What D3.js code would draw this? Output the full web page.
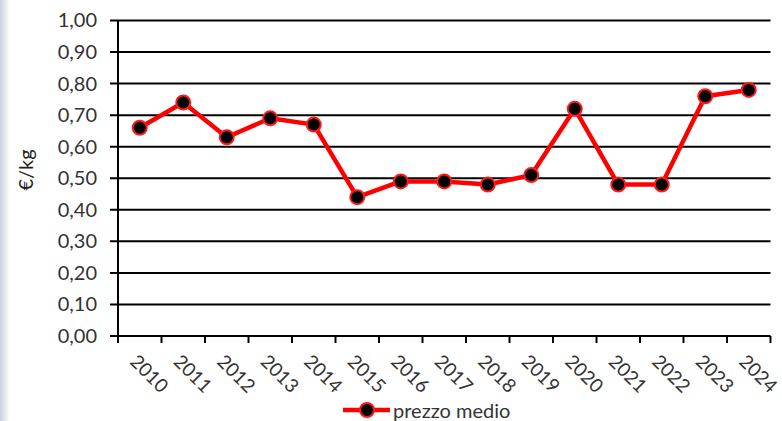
<!DOCTYPE html>
<html><head><meta charset="utf-8">
<script src="https://cdn.jsdelivr.net/npm/d3@7"></script>
<style>body{margin:0;background:#fff}svg{display:block}</style>
</head><body>
<script>
const years = ["2010","2011","2012","2013","2014","2015","2016","2017","2018","2019","2020","2021","2022","2023","2024"];
const prezzoMedio = [0.66,0.74,0.63,0.69,0.67,0.44,0.49,0.49,0.48,0.51,0.72,0.48,0.48,0.76,0.78];
const yTicks = [0,0.1,0.2,0.3,0.4,0.5,0.6,0.7,0.8,0.9,1.0];
const seriesName = "prezzo medio";
const yTitle = "€/kg";

const W = 782, H = 421;
const font = "Lato, 'Open Sans', sans-serif";
const svg = d3.select("body").append("svg").attr("width",W).attr("height",H);

const defs = svg.append("defs");
const g1 = defs.append("linearGradient").attr("id","edge").attr("x1","0").attr("x2","1");
g1.append("stop").attr("offset","0").attr("stop-color","#c9d0de");
g1.append("stop").attr("offset","1").attr("stop-color","#ffffff");
svg.append("rect").attr("x",0).attr("y",0).attr("width",10).attr("height",H).attr("fill","url(#edge)");

const x = d3.scaleBand().domain(years).range([118,770.5]);
const y = d3.scaleLinear().domain([0,1]).range([336,20.5]);

// y tick labels
const ga = svg.append("g").attr("transform","translate(118,0)")
  .call(d3.axisLeft(y).tickValues(yTicks).tickSize(0).tickPadding(21)
        .tickFormat(d=>d3.format(".2f")(d).replace(".",",")));
ga.select(".domain").remove();
ga.selectAll("text").attr("font-family",font).attr("font-size",20).attr("fill","#333");
// gridlines
svg.append("g").selectAll("line").data(yTicks).join("line")
  .attr("x1",110).attr("x2",770.5).attr("y1",d=>y(d)).attr("y2",d=>y(d))
  .attr("stroke","#000").attr("stroke-width",2);

// y axis line
svg.append("line").attr("x1",118).attr("x2",118).attr("y1",20.5).attr("y2",343)
  .attr("stroke","#000").attr("stroke-width",2);

// x axis boundary ticks
const bounds = years.map(d=>x(d)+x.bandwidth());
svg.append("g").selectAll("line").data(bounds).join("line")
  .attr("x1",d=>d).attr("x2",d=>d).attr("y1",336).attr("y2",343)
  .attr("stroke","#000").attr("stroke-width",2);

// x labels
svg.append("g").selectAll("text").data(years).join("text")
  .attr("transform",d=>`translate(${x(d)+x.bandwidth()/2},${352}) rotate(45)`)
  .attr("font-family",font).attr("font-size",19).attr("fill","#333")
  .attr("dominant-baseline","hanging").text(d=>d);

// y title
svg.append("text").attr("transform","translate(33,170) rotate(-90)")
  .attr("text-anchor","middle").attr("font-family",font).attr("font-size",20)
  .attr("fill","#222").text(yTitle);

// line
const cx = d=>x(d)+x.bandwidth()/2;
const line = d3.line().x((d,i)=>cx(years[i])).y(d=>y(d));
svg.append("path").datum(prezzoMedio).attr("d",line).attr("fill","none")
  .attr("stroke","#ff0000").attr("stroke-width",4.5).attr("stroke-linejoin","round");
svg.append("g").selectAll("circle").data(prezzoMedio).join("circle")
  .attr("cx",(d,i)=>cx(years[i])).attr("cy",d=>y(d)).attr("r",7)
  .attr("fill","#000").attr("stroke","#ff1a1a").attr("stroke-width",2);

// legend
const lg = svg.append("g");
lg.append("line").attr("x1",343).attr("x2",390).attr("y1",410).attr("y2",410)
  .attr("stroke","#ff0000").attr("stroke-width",4.5);
lg.append("circle").attr("cx",367).attr("cy",410).attr("r",7)
  .attr("fill","#000").attr("stroke","#ff1a1a").attr("stroke-width",2);
lg.append("text").attr("x",393).attr("y",418).attr("font-family",font)
  .attr("font-size",20).attr("fill","#333").text(seriesName);
</script>
</body></html>
